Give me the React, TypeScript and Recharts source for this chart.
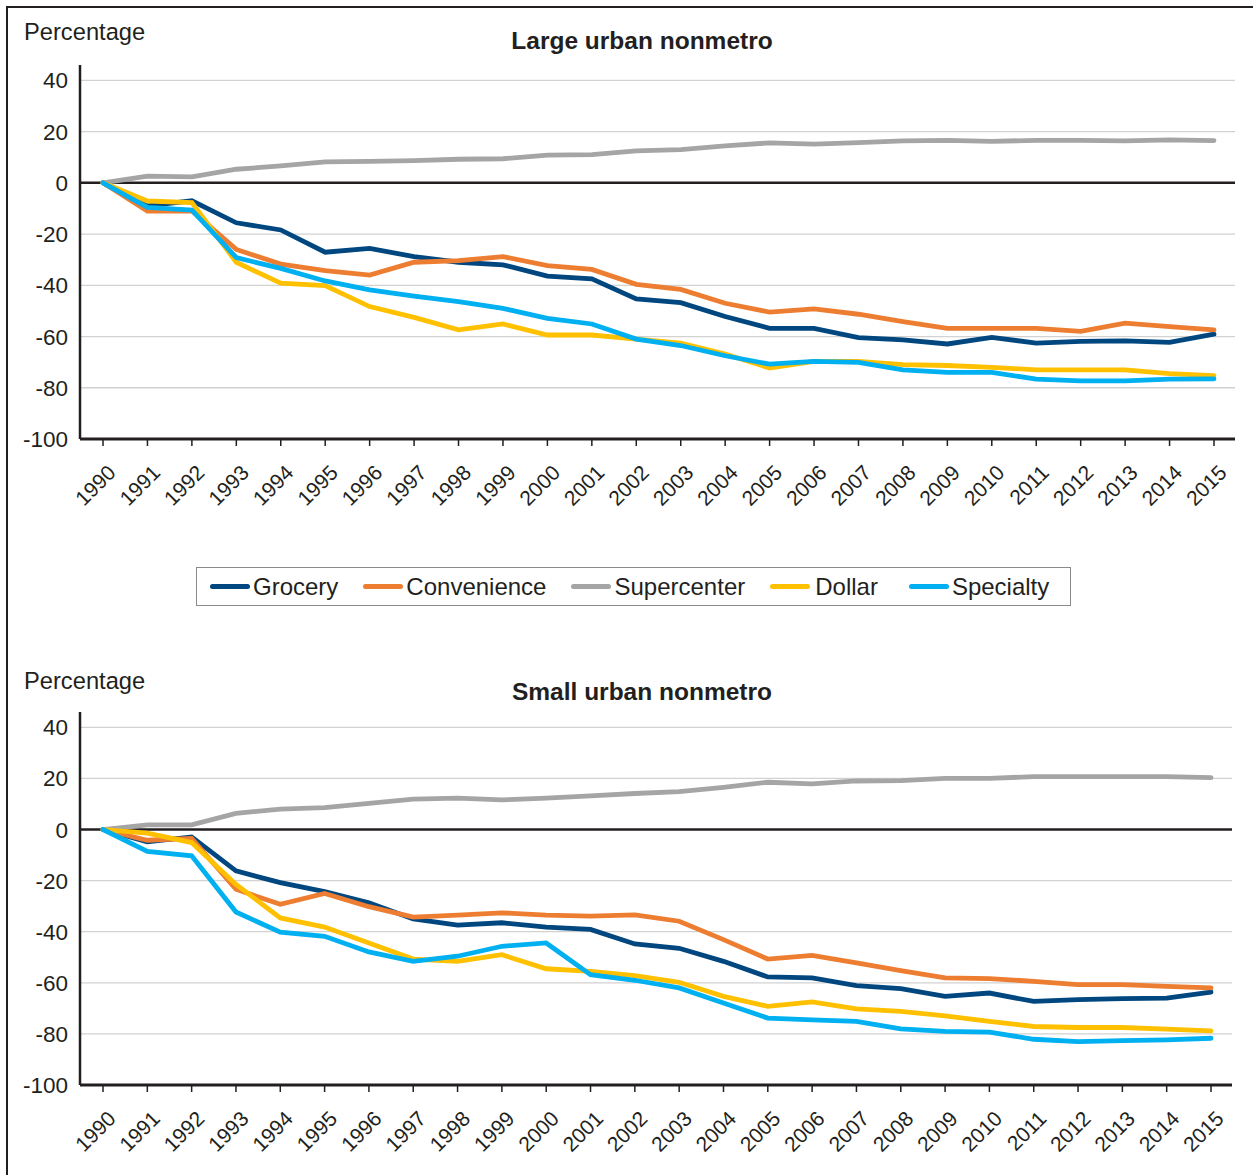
import React from 'react';
import { LineChart, Line, XAxis, YAxis, ReferenceLine } from 'recharts';

const FONT = '"Liberation Sans", Arial, Helvetica, sans-serif';
const INK = '#231f20';

const YEARS = ['1990','1991','1992','1993','1994','1995','1996','1997','1998','1999','2000','2001','2002','2003','2004','2005','2006','2007','2008','2009','2010','2011','2012','2013','2014','2015'];
const Y_TICKS = [-100, -80, -60, -40, -20, 0, 20, 40];
const GRID_VALUES = [-80, -60, -40, -20, 20, 40];

// Large urban nonmetro
const LARGE_GROCERY = [0, -9, -7, -15.6, -18.4, -27.1, -25.6, -28.8, -31, -32, -36.4, -37.5, -45.3, -46.8, -52.2, -56.8, -56.8, -60.4, -61.3, -62.9, -60.3, -62.6, -61.9, -61.7, -62.3, -59.1];
const LARGE_CONVENIENCE = [0, -11, -11, -26, -31.7, -34.3, -36, -31, -30.4, -28.8, -32.3, -33.8, -39.6, -41.6, -47, -50.5, -49.2, -51.3, -54.2, -56.8, -56.8, -56.8, -58, -54.8, -56.1, -57.4];
const LARGE_SUPERCENTER = [0, 2.6, 2.3, 5.3, 6.6, 8.2, 8.4, 8.7, 9.2, 9.4, 10.8, 11, 12.5, 13, 14.4, 15.6, 15.1, 15.7, 16.4, 16.6, 16.2, 16.6, 16.6, 16.4, 16.8, 16.5];
const LARGE_DOLLAR = [0, -7.1, -7.7, -31, -39.2, -40.1, -48.3, -52.5, -57.4, -55.1, -59.4, -59.4, -61, -62.6, -66.8, -72.3, -69.7, -69.7, -71, -71.3, -72, -73, -73, -73, -74.5, -75.3];
const LARGE_SPECIALTY = [0, -9.6, -10.6, -29.2, -33.4, -38.3, -41.8, -44.2, -46.4, -49, -52.9, -55.1, -61, -63.5, -67.5, -70.8, -69.7, -70.1, -73, -74, -74, -76.6, -77.3, -77.3, -76.6, -76.5];

// Small urban nonmetro
const SMALL_GROCERY = [0, -4.8, -2.9, -16.2, -20.8, -24.3, -28.7, -35, -37.4, -36.5, -38.2, -39.1, -44.8, -46.5, -51.6, -57.7, -58.1, -61.1, -62.3, -65.3, -64, -67.3, -66.6, -66.2, -66, -63.6];
const SMALL_CONVENIENCE = [0, -4.2, -3.5, -23.4, -29.3, -25, -30.2, -34.3, -33.5, -32.6, -33.5, -33.9, -33.4, -35.9, -43.1, -50.7, -49.3, -52.2, -55.2, -58.1, -58.4, -59.4, -60.7, -60.7, -61.4, -62];
const SMALL_SUPERCENTER = [0, 1.8, 1.8, 6.3, 8, 8.6, 10.2, 11.9, 12.3, 11.6, 12.3, 13.2, 14.1, 14.8, 16.5, 18.5, 17.9, 19, 19.1, 20, 20, 20.7, 20.7, 20.7, 20.7, 20.3];
const SMALL_DOLLAR = [0, -1.4, -5.1, -21.5, -34.6, -38.2, -44.4, -50.7, -51.6, -49, -54.5, -55.5, -57.2, -59.8, -65.3, -69.2, -67.5, -70.2, -71.2, -72.9, -75.1, -77.1, -77.5, -77.5, -78.1, -78.8];
const SMALL_SPECIALTY = [0, -8.6, -10.3, -32.3, -40.2, -41.8, -47.9, -51.6, -49.6, -45.7, -44.4, -56.8, -59, -62, -67.9, -73.8, -74.5, -75.1, -78, -79, -79.3, -82.1, -83, -82.6, -82.3, -81.7];

const SERIES = [
  { key: 'grocery', name: 'Grocery', color: '#00467f' },
  { key: 'convenience', name: 'Convenience', color: '#ed7d31' },
  { key: 'supercenter', name: 'Supercenter', color: '#a5a5a5' },
  { key: 'dollar', name: 'Dollar', color: '#ffc000' },
  { key: 'specialty', name: 'Specialty', color: '#00b0f0' },
];

function buildRows(v: Record<string, number[]>) {
  return YEARS.map((year, i) => {
    const row: Record<string, any> = { year };
    SERIES.forEach((s) => { row[s.key] = v[s.key][i]; });
    return row;
  });
}

const LARGE_ROWS = buildRows({
  grocery: LARGE_GROCERY, convenience: LARGE_CONVENIENCE, supercenter: LARGE_SUPERCENTER,
  dollar: LARGE_DOLLAR, specialty: LARGE_SPECIALTY,
});
const SMALL_ROWS = buildRows({
  grocery: SMALL_GROCERY, convenience: SMALL_CONVENIENCE, supercenter: SMALL_SUPERCENTER,
  dollar: SMALL_DOLLAR, specialty: SMALL_SPECIALTY,
});

const XTick = (props: any) => {
  const { x, y, payload } = props;
  return (
    <g transform={`translate(${x + 14},${y + 28}) rotate(-45)`}>
      <text x={0} y={0} textAnchor="end" fill={INK} fontSize={21} fontFamily={FONT}>
        {payload.value}
      </text>
    </g>
  );
};

function Panel({ data, top, rightMargin, xAxisHeight }: { data: any[]; top: number; rightMargin: number; xAxisHeight: number }) {
  return (
    <div style={{ position: 'absolute', left: 0, top, width: 1253, height: 520 }}>
      <LineChart width={1253} height={520} data={data} margin={{ top: 65, right: rightMargin, bottom: 0, left: 0 }}>
        <XAxis
          dataKey="year"
          scale="point"
          padding={{ left: 23, right: 21 }}
          height={xAxisHeight}
          interval={0}
          tickSize={7}
          tickMargin={0}
          axisLine={{ stroke: INK, strokeWidth: 3 }}
          tickLine={{ stroke: INK, strokeWidth: 1.5 }}
          tick={<XTick />}
        />
        <YAxis
          domain={[-100, 46]}
          ticks={Y_TICKS}
          width={80}
          tickLine={false}
          tickMargin={6}
          axisLine={{ stroke: INK, strokeWidth: 2.5 }}
          tick={{ fill: INK, fontSize: 22.5, fontFamily: FONT }}
          allowDataOverflow
        />
        {GRID_VALUES.map((g) => (
          <ReferenceLine key={g} y={g} stroke="#d2d2d2" strokeWidth={1.3} />
        ))}
        <ReferenceLine y={0} stroke={INK} strokeWidth={2.5} />
        {SERIES.map((s) => (
          <Line
            key={s.key}
            type="linear"
            dataKey={s.key}
            name={s.name}
            stroke={s.color}
            strokeWidth={4.8}
            strokeLinecap="round"
            dot={false}
            activeDot={false}
            isAnimationActive={false}
          />
        ))}
      </LineChart>
    </div>
  );
}

const LEGEND_TEXT_GAP = [3, 3, 3, 5, 3];
const LEGEND_ITEM_GAP = [0, 25, 25, 25, 31];

function LegendBox() {
  return (
    <div
      style={{
        position: 'absolute', left: 196, top: 567, width: 860, height: 37,
        border: '1.5px solid #8a8a8a', display: 'flex', alignItems: 'center',
        paddingLeft: 13, boxSizing: 'content-box', fontFamily: FONT, fontSize: 24, color: INK,
      }}
    >
      {SERIES.map((s, i) => (
        <div key={s.key} style={{ display: 'flex', alignItems: 'center', marginLeft: LEGEND_ITEM_GAP[i] }}>
          <div style={{ width: 40, height: 5, borderRadius: 2.5, background: s.color, marginRight: LEGEND_TEXT_GAP[i] }} />
          <span>{s.name}</span>
        </div>
      ))}
    </div>
  );
}

export default function App() {
  return (
    <div style={{ position: 'absolute', left: 0, top: 0, width: 1253, height: 1175, overflow: 'hidden', background: '#fff' }}>
      <div style={{ position: 'absolute', left: 6, top: 6, width: 1300, height: 1300, borderTop: `2.5px solid ${INK}`, borderLeft: `2.5px solid ${INK}` }} />
      <Panel data={LARGE_ROWS} top={0} rightMargin={18} xAxisHeight={81} />
      <Panel data={SMALL_ROWS} top={647} rightMargin={21} xAxisHeight={82} />
      <LegendBox />
      <svg width={1253} height={1175} style={{ position: 'absolute', left: 0, top: 0, pointerEvents: 'none' }}>
        <text x={24} y={40} fontFamily={FONT} fontSize={23.7} fill={INK}>Percentage</text>
        <text x={642} y={49} textAnchor="middle" fontFamily={FONT} fontSize={24.5} fontWeight="bold" fill={INK}>Large urban nonmetro</text>
        <text x={24} y={689} fontFamily={FONT} fontSize={23.7} fill={INK}>Percentage</text>
        <text x={642} y={700} textAnchor="middle" fontFamily={FONT} fontSize={24.5} fontWeight="bold" fill={INK}>Small urban nonmetro</text>
      </svg>
    </div>
  );
}
